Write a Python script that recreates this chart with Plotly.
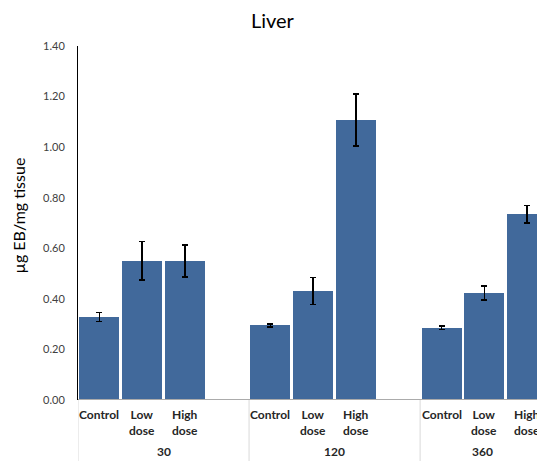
import plotly.graph_objects as go

doses = ["Control", "Low<br>dose", "High<br>dose"]
times = ["30", "120", "360"]
means = [[0.328, 0.550, 0.550],
         [0.295, 0.431, 1.107],
         [0.285, 0.423, 0.735]]
errors = [[0.018, 0.076, 0.063],
          [0.006, 0.054, 0.103],
          [0.007, 0.028, 0.034]]
y_ticks = [0.0, 0.2, 0.4, 0.6, 0.8, 1.0, 1.2, 1.4]

FONT = "Lato, 'Open Sans', sans-serif"
BAR = "#41699B"

# page body has an 8px margin, so the figure is drawn 8px smaller
W, H = 537, 453

xs, ys, es, labels = [], [], [], []
for gi in range(len(times)):
    for di in range(len(doses)):
        xs.append(gi * 4 + di)
        ys.append(means[gi][di])
        es.append(errors[gi][di])
        labels.append(doses[di])

x_max = 10.42

fig = go.Figure()
fig.add_trace(go.Bar(
    x=xs, y=ys,
    marker=dict(color=BAR, line=dict(width=0)),
    width=0.935,
    error_y=dict(type="data", array=es, visible=True,
                 color="black", thickness=1.5, width=3),
    showlegend=False,
))

annotations = []
for x, lab in zip(xs, labels):
    annotations.append(dict(
        x=x, y=0, xref="x", yref="paper", yanchor="top", xanchor="center",
        yshift=-5, text=f"<b>{lab}</b>", showarrow=False,
        font=dict(family=FONT, size=12, color="#262626"), align="center"))

for gi, t in enumerate(times):
    lo = gi * 4 - 0.5
    hi = min(gi * 4 + 3.5, x_max)
    annotations.append(dict(
        x=(lo + hi) / 2, y=0, xref="x", yref="paper", yanchor="middle",
        xanchor="center", yshift=-51, text=f"<b>{t}</b>", showarrow=False,
        font=dict(family=FONT, size=12, color="#262626")))

annotations.append(dict(
    x=-0.1499, y=0.5226, xref="paper", yref="paper", xanchor="left",
    yanchor="middle", textangle=-90, text="µg EB/mg tissue",
    showarrow=False, font=dict(family=FONT, size=16, color="#000000")))

shapes = []
for gi in range(len(times)):
    xb = gi * 4 - 0.5
    shapes.append(dict(type="line", xref="x", yref="paper",
                       x0=xb, x1=xb, y0=0, y1=-0.2,
                       line=dict(color="#D9D9D9", width=1)))

fig.update_layout(
    width=W, height=H,
    margin=dict(l=70, r=0, t=38, b=H - 392),
    paper_bgcolor="white", plot_bgcolor="white",
    title=dict(text="Liver", x=0.4923, xref="container", xanchor="center",
               y=1 - 13 / H, yref="container", yanchor="middle",
               font=dict(family=FONT, size=20, color="#000000")),
    xaxis=dict(range=[-0.5, x_max], showticklabels=False, ticks="",
               showgrid=False, zeroline=False, showline=False),
    yaxis=dict(range=[0, 1.4], tickvals=y_ticks, tickformat=".2f",
               ticks="", showgrid=False, zeroline=False,
               showline=True, linecolor="#000000", linewidth=1,
               tickfont=dict(family=FONT, size=11, color="#404040"),
               ticklabelstandoff=10),
    annotations=annotations,
    shapes=shapes + [dict(type="line", xref="paper", yref="y",
                          x0=0, x1=1, y0=0, y1=0,
                          line=dict(color="#ABABAB", width=2))],
    bargap=0,
)

fig.write_html("out.html")
